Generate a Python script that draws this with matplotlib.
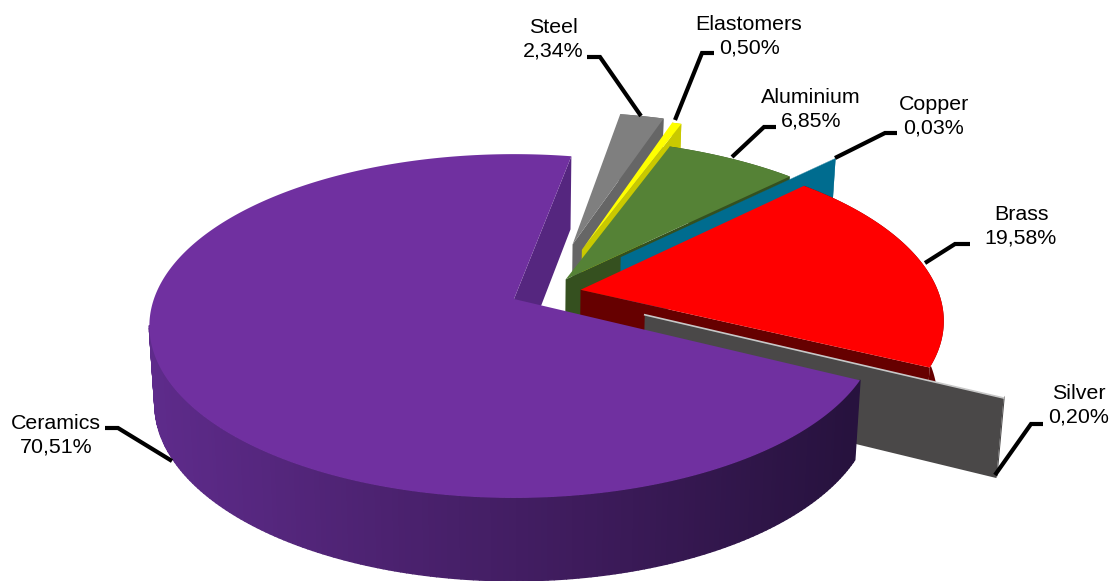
import numpy as np
import matplotlib
matplotlib.use("Agg")
import matplotlib.pyplot as plt
from matplotlib.collections import PolyCollection
from matplotlib.colors import to_rgb

plt.rcParams['font.family'] = ['Liberation Sans', 'DejaVu Sans']

# -------------------------
# Data (clockwise from the top of the pie)
# -------------------------
names = ["Steel", "Elastomers", "Aluminium", "Copper", "Brass", "Silver", "Ceramics"]
shares = [2.34, 0.50, 6.85, 0.03, 19.58, 0.20, 70.51]

# -------------------------
# Look of the slices
# -------------------------
top_colors = ["#7f7f7f", "#ffff00", "#558236", "#006c8f", "#ff0000", "#c8c8c8", "#7030a0"]
wall_colors = ["#666666", "#c9c900", "#35501f", "#006c8f", "#660000", "#4a4848", "#55267f"]
# explosion of each slice on the disc plane (across, depth), and its radius
offsets = [(0.17, 0.34), (0.196, 0.305), (0.145, 0.118), (0.306, 0.258),
           (0.185, 0.055), (0.355, -0.092), (0.0, 0.0)]
radii = [1, 1, 1, 1, 0.992, 0.985, 0.992]

# -------------------------
# Projection of the tilted disc to image pixels
# -------------------------
cx, cy = 514, 299
A, B, k = 363, 169, 0.1585
start_deg = 79.4


def project(u, v):
    w = 1 + k * v
    return cx + A * u / w, cy - B * v / w


def lower(x, y):
    # same point on the underside of the pie
    return cx + (x - cx) * 0.985, y + 68.5 + 0.029 * y


fig = plt.figure(figsize=(11.17, 5.81), dpi=100)
ax = fig.add_axes([0, 0, 1, 1])
ax.set_xlim(0, 1117)
ax.set_ylim(581, 0)
ax.axis("off")

theta = start_deg
for name, share, top, wall, off, r in zip(names, shares, top_colors, wall_colors, offsets, radii):
    sweep = share / sum(shares) * 360
    # ceramics runs the long way round, from the far edge down the left side
    if name == "Ceramics":
        a = np.radians(np.linspace(start_deg, theta + 360, 300))
    else:
        a = np.radians(np.linspace(theta, theta - sweep, max(8, int(sweep * 3))))
    theta -= sweep
    u0, v0 = off
    rx, ry = project(u0 + r * np.cos(a), v0 + r * np.sin(a))
    ax_, ay_ = project(u0, v0)
    bx, by = lower(rx, ry)
    abx, aby = lower(ax_, ay_)

    if name == "Ceramics":
        # inner wall at the far edge
        ax.fill([ax_, rx[0], bx[0], abx], [ay_, ry[0], by[0], aby],
                color=wall, lw=0)
        # outer wall, getting darker to the right
        stops = np.array([to_rgb(c) for c in ["#5e2b8b", "#4c2270", "#3b1a58", "#27123e"]])
        polys, cols = [], []
        for i in range(len(a) - 1):
            if ry[i] < cy + 26:
                continue
            polys.append([(rx[i], ry[i]), (rx[i + 1], ry[i + 1]),
                          (bx[i + 1], by[i + 1]), (bx[i], by[i])])
            t = np.clip((rx[i] - 150) / 700, 0, 1) * 3
            cols.append([np.interp(t, [0, 1, 2, 3], stops[:, c]) for c in range(3)])
        ax.add_collection(PolyCollection(polys, facecolors=cols, edgecolors=cols, lw=1.0))
    else:
        # wall along the clockwise edge and the outer rim
        ax.fill([ax_, rx[-1], bx[-1], abx], [ay_, ry[-1], by[-1], aby],
                color=wall, lw=0)
        ax.fill(np.r_[rx, bx[::-1]], np.r_[ry, by[::-1]], color=wall, lw=0)

    if name == "Silver":
        ax.plot([ax_, rx[-1]], [ay_, ry[-1]], color=top, lw=1.2)
    else:
        ax.fill(np.r_[ax_, rx], np.r_[ay_, ry], color=top, lw=0)

# -------------------------
# Labels and leader lines
# -------------------------
label_pos = [(553, 39), (749, 36), (811, 109), (934, 116), (1021, 226), (1079, 405), (56, 435)]
leaders = [
    [(587, 57), (600, 57), (641, 116)],
    [(714, 53), (702, 53), (675, 120)],
    [(776, 127), (764, 127), (732, 157)],
    [(897, 133), (885, 133), (835, 158)],
    [(970, 244), (955, 244), (925, 263)],
    [(1043, 424), (1031, 424), (995, 475)],
    [(105, 428), (118, 428), (172, 461)],
]

for name, share, pos, line in zip(names, shares, label_pos, leaders):
    xs, ys = zip(*line)
    ax.plot(xs, ys, color="black", lw=3.0, solid_joinstyle="miter", solid_capstyle="butt")
    label = f"{name}\n{share:.2f}%".replace(".", ",")
    ax.text(pos[0], pos[1], label, ha="center", va="center", fontsize=15.4,
            color="black", linespacing=1.3)

fig.savefig("out.png", dpi=100, facecolor="white")
